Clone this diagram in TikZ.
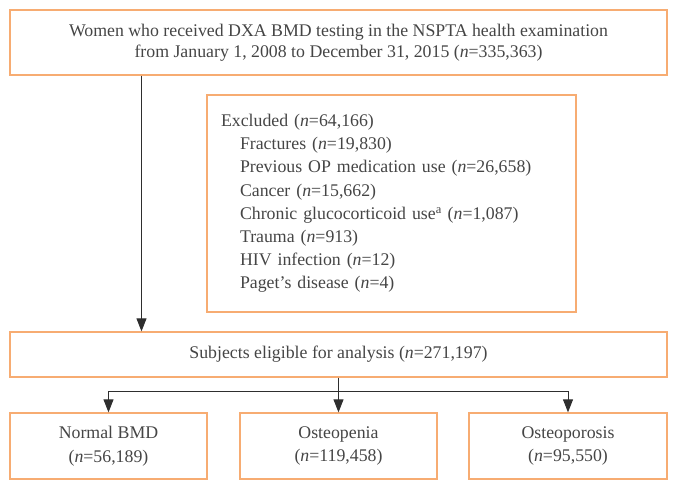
\documentclass[tikz,border=0pt]{standalone}
\usepackage{fontspec}
\setmainfont{Liberation Serif}
\usetikzlibrary{positioning,arrows.meta}
\definecolor{boxorange}{HTML}{F7AC72}
\definecolor{txtgray}{HTML}{454545}
\definecolor{linegray}{HTML}{2E2E2E}

\begin{document}
\begin{tikzpicture}[x=1pt, y=-1pt,
		box/.style={draw=boxorange, line width=1.3pt, text=txtgray, inner sep=0pt, align=center, font=\fontsize{17.8}{21.5}\selectfont},
		arr/.style={-{Triangle[length=13pt, width=10pt]}, line width=0.9pt, draw=linegray}]
		\useasboundingbox (0,0) rectangle (677,490);
		\node[box, minimum width=657pt, minimum height=65pt] (women) at (338.5, 42.5) {Women who received DXA BMD testing in the NSPTA health examination\\from January 1, 2008 to December 31, 2015 (\textit{n}=335,363)};
		\node[box, minimum height=217pt, text width=341pt, inner xsep=14pt, align=left, font=\fontsize{17.8}{23.2}\selectfont] (excl) at (391.5, 203.5) {Excluded (\textit{n}=64,166)\\
			\hspace*{19pt}Fractures (\textit{n}=19,830)\\
			\hspace*{19pt}Previous OP medication use (\textit{n}=26,658)\\
			\hspace*{19pt}Cancer (\textit{n}=15,662)\\
			\hspace*{19pt}Chronic glucocorticoid use\textsuperscript{a} (\textit{n}=1,087)\\
			\hspace*{19pt}Trauma (\textit{n}=913)\\
			\hspace*{19pt}HIV infection (\textit{n}=12)\\
			\hspace*{19pt}Paget’s disease (\textit{n}=4)};
		\node[box, minimum width=657pt, minimum height=45pt] (subj) at (338.5, 354.5) {Subjects eligible for analysis (\textit{n}=271,197)};
		\node[box, minimum width=197pt, minimum height=66pt, font=\fontsize{17.8}{23.5}\selectfont] (normal) at (108.5, 446) {Normal BMD\\(\textit{n}=56,189)};
		\node[box, minimum width=197pt, minimum height=66pt, font=\fontsize{17.8}{23.5}\selectfont] (penia) at (338.5, 446) {Osteopenia\\(\textit{n}=119,458)};
		\node[box, minimum width=198pt, minimum height=66pt, font=\fontsize{17.8}{23.5}\selectfont] (porosis) at (568, 446) {Osteoporosis\\(\textit{n}=95,550)};
		\coordinate (split) at (338.5, 391);
		\draw[arr] ([xshift=-197pt]women.south) -- ([xshift=-197pt]subj.north);
		\draw[line width=0.9pt, draw=linegray] (subj.south) -- (split);
		\draw[arr] (split) -| (normal.north);
		\draw[arr] (split) -- (penia.north);
		\draw[arr] (split) -| (porosis.north);
	\end{tikzpicture}
\end{document}
